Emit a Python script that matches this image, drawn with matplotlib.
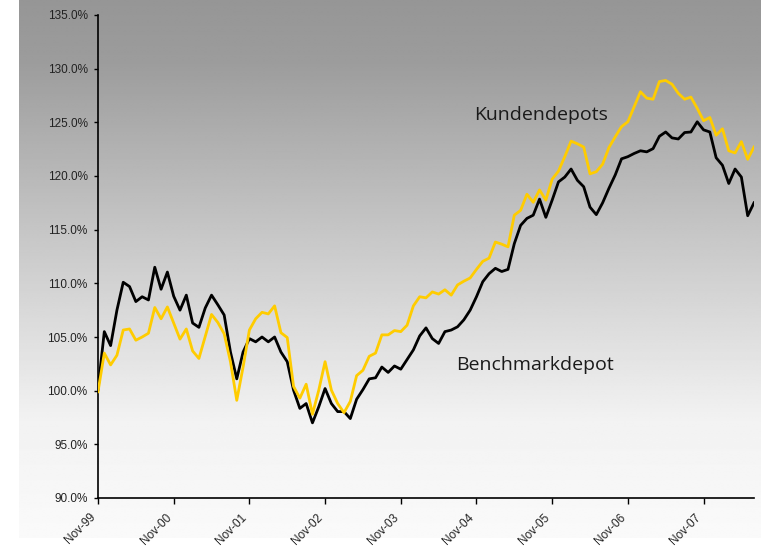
import numpy as np
import matplotlib
matplotlib.use('Agg')
import matplotlib.pyplot as plt

# Werte in Prozent, monatlich ab Nov-99
benchmark = [100.1, 105.5, 104.2, 107.5, 110.1, 109.7, 108.3, 108.75, 108.45, 111.5,
             109.45, 111.05, 108.8, 107.5, 108.9, 106.3, 105.9, 107.7, 108.9, 108.0,
             107.05, 103.6, 101.1, 103.6, 104.85, 104.55, 105.0, 104.55, 105.0, 103.6,
             102.7, 100.05, 98.35, 98.8, 97.0, 98.5, 100.2, 98.8, 98.05, 98.05,
             97.4, 99.2, 100.1, 101.1, 101.2, 102.2, 101.7, 102.3, 102.0, 102.9,
             103.8, 105.1, 105.85, 104.85, 104.4, 105.5, 105.65, 105.95, 106.6, 107.5,
             108.75, 110.15, 110.9, 111.4, 111.1, 111.3, 113.7, 115.4, 116.05, 116.35,
             117.85, 116.15, 117.75, 119.45, 119.9, 120.65, 119.6, 119.0, 117.1, 116.4,
             117.5, 118.85, 120.1, 121.6, 121.8, 122.1, 122.35, 122.25, 122.55, 123.7,
             124.1, 123.55, 123.45, 124.05, 124.1, 125.05, 124.3, 124.1, 121.7, 121.0,
             119.3, 120.65, 119.9, 116.3, 117.5]

kunden = [99.9, 103.5, 102.4, 103.3, 105.65, 105.75, 104.7, 105.0, 105.35, 107.75,
          106.7, 107.8, 106.3, 104.8, 105.75, 103.7, 103.0, 105.05, 107.1, 106.35,
          105.3, 102.7, 99.1, 102.2, 105.65, 106.7, 107.3, 107.15, 107.9, 105.4,
          104.95, 100.4, 99.3, 100.6, 97.8, 100.05, 102.7, 100.05, 98.8, 97.95,
          99.0, 101.4, 101.9, 103.2, 103.5, 105.2, 105.2, 105.6, 105.5, 106.1,
          107.9, 108.75, 108.65, 109.2, 109.0, 109.4, 108.9, 109.85, 110.2, 110.5,
          111.3, 112.05, 112.35, 113.85, 113.65, 113.4, 116.35, 116.8, 118.3, 117.55,
          118.7, 117.75, 119.7, 120.45, 121.8, 123.25, 123.0, 122.7, 120.2, 120.4,
          121.1, 122.65, 123.65, 124.6, 125.05, 126.45, 127.85, 127.25, 127.15, 128.8,
          128.9, 128.55, 127.7, 127.15, 127.35, 126.3, 125.15, 125.45, 123.8, 124.4,
          122.35, 122.15, 123.2, 121.55, 122.7]

tick_labels = ['Nov-99', 'Nov-00', 'Nov-01', 'Nov-02', 'Nov-03',
               'Nov-04', 'Nov-05', 'Nov-06', 'Nov-07']
y_ticks = [90, 95, 100, 105, 110, 115, 120, 125, 130, 135]

plt.rcParams['font.family'] = ['Liberation Sans', 'DejaVu Sans']

fig = plt.figure(figsize=(7.61, 5.47), dpi=100)

# Hintergrund mit Verlauf (dunkelgrau oben, fast weiss unten)
bg = fig.add_axes([19 / 761, 9 / 547, 742 / 761, 538 / 547])
rows = np.linspace(0, 538, 300)
shade = np.interp(rows, [0, 60, 240, 420, 538], [150, 156, 200, 242, 250]) / 255
img = np.repeat(shade[:, None], 2, axis=1)
bg.imshow(img, cmap='gray', vmin=0, vmax=1, aspect='auto', interpolation='bilinear')
bg.axis('off')

ax = fig.add_axes([98 / 761, 49 / 547, 656 / 761, 483 / 547])
ax.set_facecolor('none')

x = np.arange(len(benchmark))
ax.plot(x, benchmark, color='black', lw=2.0, zorder=3)
ax.plot(x, kunden, color='#FFCC00', lw=2.0, zorder=4)

ax.set_xlim(0, len(benchmark) - 1)
ax.set_ylim(90, 135)
ax.set_yticks(y_ticks)
ax.set_yticklabels([f'{v:.1f}%' for v in y_ticks], fontsize=8.5, color='#222222')
ax.set_xticks(np.arange(len(tick_labels)) * 12)
ax.set_xticklabels(tick_labels, rotation=45, ha='right', fontsize=8.5, color='#222222')

for s in ['top', 'right']:
    ax.spines[s].set_visible(False)
for s in ['left', 'bottom']:
    ax.spines[s].set_color('black')
    ax.spines[s].set_linewidth(1.2)
ax.tick_params(axis='y', direction='out', length=3, width=1, pad=4.5)
ax.tick_params(axis='x', direction='out', length=4, width=1, pad=5.5)

ax.text(59.7, 125.7, 'Kundendepots', fontsize=14, family=['Open Sans', 'DejaVu Sans'],
        color='#1a1a1a', ha='left', va='center')
ax.text(56.7, 102.4, 'Benchmarkdepot', fontsize=14, family=['Open Sans', 'DejaVu Sans'],
        color='#1a1a1a', ha='left', va='center')

fig.savefig('out.png', dpi=100)
